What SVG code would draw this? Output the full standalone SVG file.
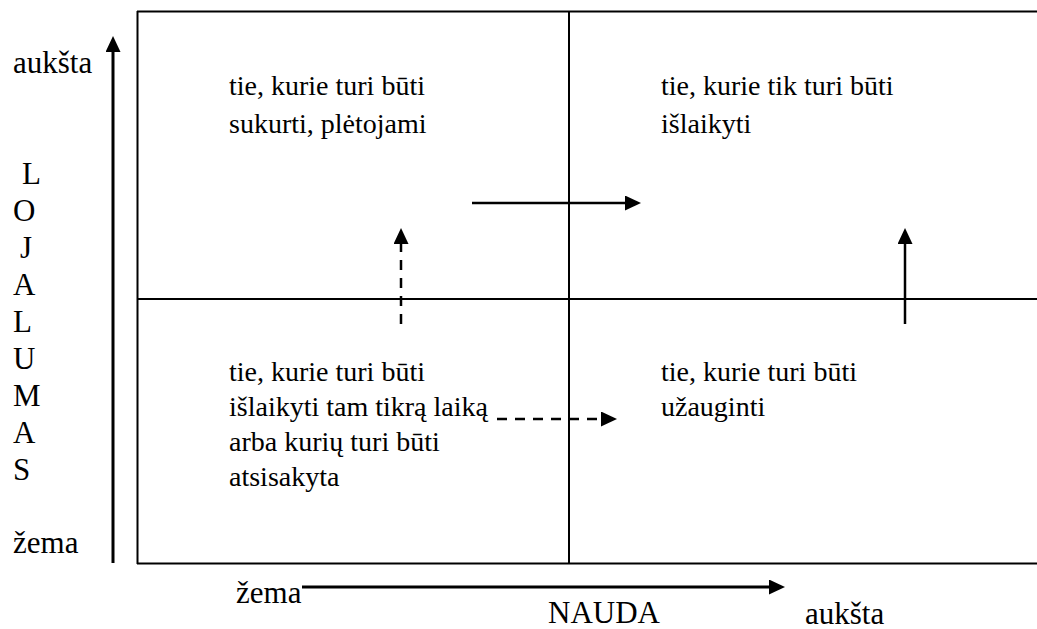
<svg xmlns="http://www.w3.org/2000/svg" width="1037" height="629" viewBox="0 0 1037 629">
  <style>
    .t { font-family: "Liberation Serif", "Times New Roman", serif; font-size: 28px; fill: #000; }
    .ax { font-family: "Liberation Serif", "Times New Roman", serif; font-size: 31px; fill: #000; }
    .frame { stroke: #000; stroke-width: 2; fill: none; }
    .conn { stroke: #000; stroke-width: 2.5; fill: none; }
    .axis { stroke: #000; stroke-width: 3; fill: none; }
    .dash { stroke-dasharray: 10 8; }
  </style>
  <defs>
    <marker id="head" markerUnits="userSpaceOnUse" markerWidth="16" markerHeight="16" refX="0" refY="7.5" orient="auto">
      <path d="M0,0 L16,7.5 L0,15 z" fill="#000"/>
    </marker>
  </defs>
  <rect width="1037" height="629" fill="#fff"/>

  <!-- matrix frame -->
  <g id="frame">
    <line class="frame" x1="137" y1="11.5" x2="1037" y2="11.5"/>
    <line class="frame" x1="137.5" y1="11" x2="137.5" y2="564"/>
    <line class="frame" x1="137" y1="563.5" x2="1037" y2="563.5"/>
    <line class="frame" x1="569" y1="11" x2="569" y2="563"/>
    <line class="frame" x1="137" y1="299" x2="1037" y2="299"/>
  </g>

  <!-- quadrants -->
  <g id="q-top-left">
    <text class="t" x="229" y="95">tie, kurie turi būti</text>
    <text class="t" x="229" y="133">sukurti, plėtojami</text>
  </g>
  <g id="q-top-right">
    <text class="t" x="661" y="95">tie, kurie tik turi būti</text>
    <text class="t" x="661" y="133">išlaikyti</text>
  </g>
  <g id="q-bottom-left">
    <text class="t" x="229" y="381">tie, kurie turi būti</text>
    <text class="t" x="229" y="416">išlaikyti tam tikrą laiką</text>
    <text class="t" x="229" y="451">arba kurių turi būti</text>
    <text class="t" x="229" y="486">atsisakyta</text>
  </g>
  <g id="q-bottom-right">
    <text class="t" x="661" y="381">tie, kurie turi būti</text>
    <text class="t" x="661" y="416">užauginti</text>
  </g>

  <!-- axis labels -->
  <g id="axis-loyalty">
    <text class="ax" x="13" y="73">aukšta</text>
    <text class="ax" x="22" y="184">L</text>
    <text class="ax" x="13" y="221">O</text>
    <text class="ax" x="20" y="258">J</text>
    <text class="ax" x="13" y="295">A</text>
    <text class="ax" x="13" y="332">L</text>
    <text class="ax" x="13" y="369">U</text>
    <text class="ax" x="13" y="406">M</text>
    <text class="ax" x="13" y="443">A</text>
    <text class="ax" x="13" y="480">S</text>
    <text class="ax" x="13" y="553">žema</text>
  </g>
  <g id="axis-benefit">
    <text class="ax" x="236" y="603">žema</text>
    <text class="ax" x="548" y="623">NAUDA</text>
    <text class="ax" x="805" y="624">aukšta</text>
  </g>

  <!-- connectors -->
  <g id="connectors">
    <line class="axis" x1="113" y1="563" x2="113" y2="52" marker-end="url(#head)"/>
    <line class="axis" x1="302" y1="587" x2="769" y2="587" marker-end="url(#head)"/>
    <line class="conn" x1="472" y1="203" x2="625" y2="203" marker-end="url(#head)"/>
    <line class="conn dash" x1="401" y1="324" x2="401" y2="244" marker-end="url(#head)"/>
    <line class="conn" x1="905" y1="324" x2="905" y2="244" marker-end="url(#head)"/>
    <line class="conn dash" x1="497" y1="419" x2="601" y2="419" marker-end="url(#head)"/>
  </g>
</svg>
